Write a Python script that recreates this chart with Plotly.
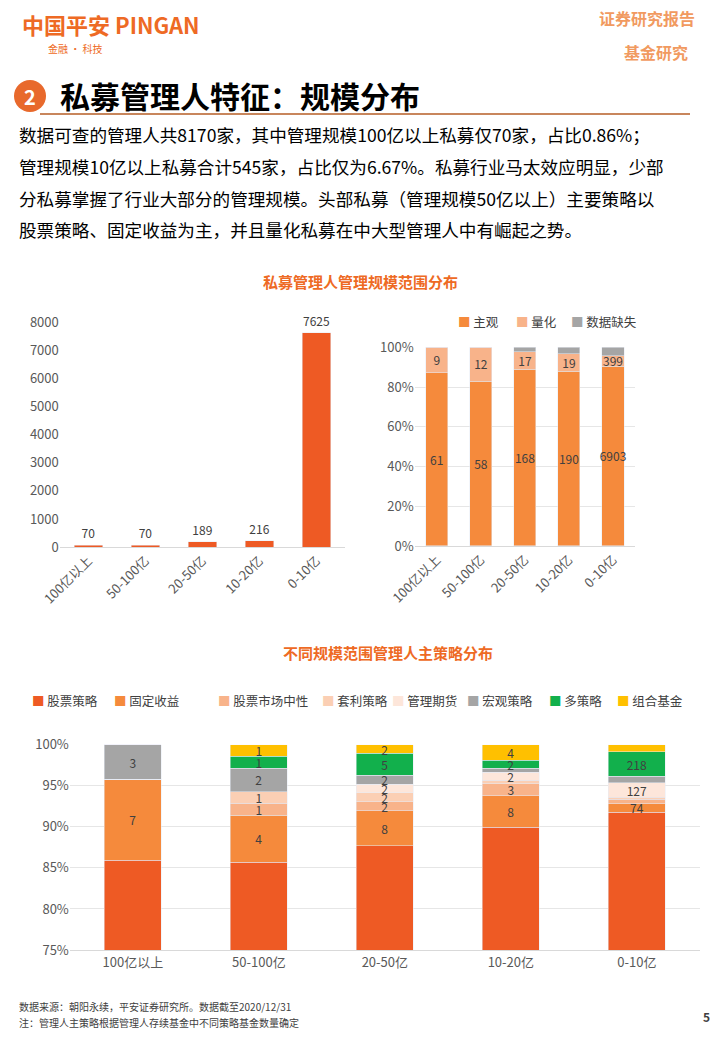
import plotly.graph_objects as go

# ---- data ----
cats = ["100亿以上", "50-100亿", "20-50亿", "10-20亿", "0-10亿"]
counts = [70, 70, 189, 216, 7625]

style_names = ["主观", "量化", "数据缺失"]
style_vals = [
    [61, 58, 168, 190, 6903],
    [9, 12, 17, 19, 399],
    [0, 0, 4, 7, 323],
]
style_colors = ["#F58A3C", "#F8B38A", "#A5A5A5"]
style_labelled = [True, True, False]

strat_names = ["股票策略", "固定收益", "股票市场中性", "套利策略", "管理期货", "宏观策略", "多策略", "组合基金"]
strat_vals = [
    [61, 60, 164, 188, 6738],
    [7, 4, 8, 8, 74],
    [0, 1, 2, 3, 40],
    [0, 1, 2, 1, 20],
    [0, 0, 2, 2, 127],
    [3, 2, 2, 1, 60],
    [0, 1, 5, 2, 218],
    [0, 1, 2, 4, 64],
]
strat_colors = ["#EE5A24", "#F58A3C", "#F8B38A", "#FBCFB4", "#FDE6DA", "#A5A5A5", "#12B04C", "#FFC000"]

FONT = "Noto Sans CJK SC"
fig = go.Figure()

fig.add_trace(go.Bar(x=cats, y=counts, marker_color="#EE5A24", text=counts, textposition="outside",
                     textfont=dict(size=13, color="#404040"), xaxis="x", yaxis="y", showlegend=False,
                     width=0.5, cliponaxis=False))

tot2 = [sum(s[i] for s in style_vals) for i in range(5)]
for n, v, c, lab in zip(style_names, style_vals, style_colors, style_labelled):
    pct = [a / t * 100 for a, t in zip(v, tot2)]
    txt = [str(a) if lab else "" for a in v]
    fig.add_trace(go.Bar(x=cats, y=pct, name=n, marker_color=c, text=txt, textposition="inside",
                         insidetextanchor="middle", textangle=0, textfont=dict(size=13, color="#404040"),
                         xaxis="x2", yaxis="y2", showlegend=False, width=0.5, constraintext="none"))

tot3 = [sum(s[i] for s in strat_vals) for i in range(5)]
for n, v, c in zip(strat_names, strat_vals, strat_colors):
    pct = [a / t * 100 for a, t in zip(v, tot3)]
    txt = [str(a) if p > 0.9 else "" for a, p in zip(v, pct)]
    fig.add_trace(go.Bar(x=cats, y=pct, name=n, marker_color=c, text=txt, textposition="inside",
                         insidetextanchor="middle", textangle=0, textfont=dict(size=12, color="#404040"),
                         xaxis="x3", yaxis="y3", showlegend=False, width=0.45, constraintext="none"))

tick = dict(size=13, color="#595959", family=FONT)
fig.update_layout(
    width=720, height=1040, margin=dict(l=0, r=0, t=0, b=0, autoexpand=False),
    paper_bgcolor="white", plot_bgcolor="white",
    font=dict(family=FONT),
    barmode="stack",
    uniformtext=dict(mode="show", minsize=11),
    xaxis=dict(domain=[0.083, 0.479], anchor="y", tickangle=-45, tickfont=tick,
               showline=True, linecolor="#D9D9D9"),
    yaxis=dict(domain=[0.474, 0.690], anchor="x", range=[0, 8000], dtick=1000, showgrid=False,
               tickfont=tick, zeroline=False),
    xaxis2=dict(domain=[0.576, 0.882], anchor="y2", tickangle=-45, tickfont=tick,
                showline=True, linecolor="#D9D9D9"),
    yaxis2=dict(domain=[0.475, 0.666], anchor="x2", range=[0, 100], dtick=20, ticksuffix="%",
                gridcolor="#E6E6E6", tickfont=tick, zeroline=False),
    xaxis3=dict(domain=[0.097, 0.972], anchor="y3", tickfont=tick, showline=True, linecolor="#D9D9D9"),
    yaxis3=dict(domain=[0.0865, 0.284], anchor="x3", range=[75, 100], dtick=5, ticksuffix="%",
                gridcolor="#E6E6E6", tickfont=tick, zeroline=False),
)

ann = []
def A(x, y, text, size, color="#000000", anchor="left", bold=False, family=FONT):
    if bold:
        text = "<b>" + text + "</b>"
    ann.append(dict(x=x / 720, y=1 - y / 1040, xref="paper", yref="paper", text=text, showarrow=False,
                    xanchor=anchor, yanchor="middle", font=dict(size=size, color=color, family=family)))

A(20, 24, "中国平安 PINGAN", 22, "#EE6A24", bold=True)
A(46, 48, "金融 · 科技", 10, "#EE6A24")
A(697, 18, "证券研究报告", 16, "#F19A60", "right", True)
A(690, 52, "基金研究", 16, "#F19A60", "right", True)
A(58, 95, "私募管理人特征：规模分布", 30, "#000000", bold=True)
A(30, 96, "2", 20, "white", "center", True)
lines = ["数据可查的管理人共8170家，其中管理规模100亿以上私募仅70家，占比0.86%；",
         "管理规模10亿以上私募合计545家，占比仅为6.67%。私募行业马太效应明显，少部",
         "分私募掌握了行业大部分的管理规模。头部私募（管理规模50亿以上）主要策略以",
         "股票策略、固定收益为主，并且量化私募在中大型管理人中有崛起之势。"]
for i, l in enumerate(lines):
    A(17, 135 + i * 31.5, l, 17.6, "#000000")
A(360, 282, "私募管理人管理规模范围分布", 15, "#EE6A24", "center", True)
A(388, 652, "不同规模范围管理人主策略分布", 15, "#EE6A24", "center", True)
A(17, 1006, "数据来源：朝阳永续，平安证券研究所。数据截至2020/12/31", 10, "#404040")
A(17, 1022, "注：管理人主策略根据管理人存续基金中不同策略基金数量确定", 10, "#404040")
A(712, 1016, "5", 12, "#404040", "right", True)

top_leg_x = [456, 514, 569]
for x, n, c in zip(top_leg_x, style_names, style_colors):
    A(x, 321, f"<span style='color:{c}'>■</span> {n}", 12.5, "#404040")
bot_leg_x = [30, 112, 216, 320, 390, 465, 547, 615]
for x, n, c in zip(bot_leg_x, strat_names, strat_colors):
    A(x, 700, f"<span style='color:{c}'>■</span> {n}", 12.5, "#404040")
fig.update_layout(annotations=ann)

fig.update_layout(shapes=[
    dict(type="circle", xref="paper", yref="paper", x0=14 / 720, x1=46 / 720, y0=1 - 112 / 1040, y1=1 - 80 / 1040,
         fillcolor="#E8692C", line=dict(width=0)),
    dict(type="line", xref="paper", yref="paper", x0=40 / 720, x1=690 / 720, y0=1 - 114 / 1040, y1=1 - 114 / 1040,
         line=dict(color="#C8865C", width=2)),
])

fig.write_html("out.html", config={"displayModeBar": False},
               post_script="document.body.style.margin='0';document.body.style.overflow='hidden';")
